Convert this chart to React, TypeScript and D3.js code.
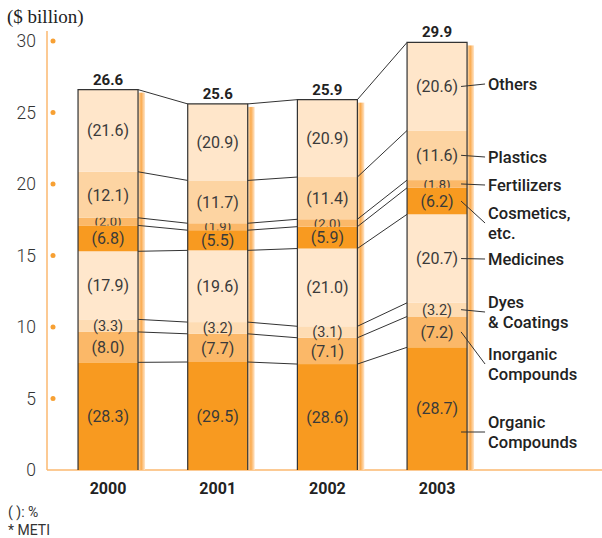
import React from 'react';
import * as d3 from 'd3';

const years = ['2000', '2001', '2002', '2003'];
const totals = [26.6, 25.6, 25.9, 29.9];
const categories = ['Organic Compounds', 'Inorganic Compounds', 'Dyes & Coatings', 'Medicines', 'Cosmetics, etc.', 'Fertilizers', 'Plastics', 'Others'];
// shares (%) per category, by year
const organic = [28.3, 29.5, 28.6, 28.7];
const inorganic = [8.0, 7.7, 7.1, 7.2];
const dyes = [3.3, 3.2, 3.1, 3.2];
const medicines = [17.9, 19.6, 21.0, 20.7];
const cosmetics = [6.8, 5.5, 5.9, 6.2];
const fertilizers = [2.0, 1.9, 2.0, 1.8];
const plastics = [12.1, 11.7, 11.4, 11.6];
const others = [21.6, 20.9, 20.9, 20.6];
const yTicks = [0, 5, 10, 15, 20, 25, 30];

const shares = [organic, inorganic, dyes, medicines, cosmetics, fertilizers, plastics, others];
const colors = ['#F89A20', '#FBB868', '#FEDCB3', '#FFE7CC', '#F89A20', '#FBB868', '#FDD4A2', '#FFE6CA'];

// legend labels: text lines, block centre y, whether line starts at segment middle
const legend = [
  { lines: ['Organic', 'Compounds'], y: 432, fromMid: false },
  { lines: ['Inorganic', 'Compounds'], y: 364, fromMid: true },
  { lines: ['Dyes', '& Coatings'], y: 312, fromMid: true },
  { lines: ['Medicines'], y: 259, fromMid: true },
  { lines: ['Cosmetics,', 'etc.'], y: 223, fromMid: true },
  { lines: ['Fertilizers'], y: 185, fromMid: true },
  { lines: ['Plastics'], y: 157, fromMid: true },
  { lines: ['Others'], y: 84, fromMid: true },
];

const W = 602;
const H = 538;
const sans = 'Roboto, "Noto Sans", sans-serif';

export default function App() {
  const rows = years.map((yr, i) => {
    const r: any = { year: yr };
    categories.forEach((c, k) => { r[c] = totals[i] * shares[k][i] / 100; });
    return r;
  });
  const series = d3.stack().keys(categories)(rows);

  const x = d3.scaleBand().domain(years).range([53.2, 491.9]).paddingInner(0.453).paddingOuter(0.2265);
  const y = d3.scaleLinear().domain([0, 30]).range([470, 41]);
  const bw = x.bandwidth();
  const fmt = d3.format('.1f');

  return (
    <svg width={W} height={H} style={{ position: 'absolute', left: 0, top: 0 }}>
      <defs>
        <linearGradient id="shadow" x1="0" x2="1" y1="0" y2="0">
          <stop offset="0" stopColor="#FFE2BE" />
          <stop offset="0.45" stopColor="#FAAA4E" />
          <stop offset="1" stopColor="#FFE6CA" />
        </linearGradient>
        {series.map((s, k) => s.map((d, i) => (
          <clipPath key={`${k}-${i}`} id={`clip-${k}-${i}`}>
            <rect x={x(years[i])} y={y(d[1])} width={bw} height={y(d[0]) - y(d[1])} />
          </clipPath>
        )))}
      </defs>

      <text x={7} y={23} fontFamily='"Liberation Serif", serif' fontSize={19} fill="#222">($ billion)</text>

      {/* y axis */}
      <line x1={47} x2={47} y1={31} y2={y(0)} stroke="#FBB971" strokeWidth={1.5} />
      <line x1={47} x2={W} y1={y(0)} y2={y(0)} stroke="#FBB971" strokeWidth={1.5} />
      {yTicks.map(t => (
        <g key={t}>
          <circle cx={53} cy={y(t)} r={2.5} fill={t === 0 ? 'none' : '#F7A033'} />
          <text x={36} y={y(t)} dy="0.36em" textAnchor="end" fontFamily={sans} fontSize={17.5} fontWeight={300} fill="#333">{t}</text>
        </g>
      ))}

      {/* shadows */}
      {years.map((yr, i) => (
        <rect key={yr} x={x(yr)! + bw} y={y(totals[i]) + 3} width={7} height={y(0) - y(totals[i]) - 3} fill="url(#shadow)" />
      ))}

      {/* segments */}
      {series.map((s, k) => s.map((d, i) => (
        <rect key={`${k}-${i}`} x={x(years[i])} y={y(d[1])} width={bw} height={y(d[0]) - y(d[1])} fill={colors[k]} />
      )))}

      {/* outlines */}
      {years.map((yr, i) => {
        const x0 = x(yr)!;
        const yt = y(totals[i]);
        return <path key={yr} d={`M${x0},${y(0)}V${yt}H${x0 + bw}V${y(0)}`} fill="none" stroke="#333" strokeWidth={1.2} />;
      })}

      {/* connecting lines */}
      {years.slice(0, -1).map((yr, i) => series.map((s, k) => (
        <line key={`${i}-${k}`} x1={x(yr)! + bw} x2={x(years[i + 1])} y1={y(s[i][1])} y2={y(s[i + 1][1])} stroke="#333" strokeWidth={1} />
      )))}

      {/* percentage labels */}
      {series.map((s, k) => s.map((d, i) => {
        const p = shares[k][i];
        const clipped = p < 2.5;
        return (
          <text key={`${k}-${i}`} x={x(years[i])! + bw / 2} y={(y(d[0]) + y(d[1])) / 2} dy="0.36em" textAnchor="middle"
            fontFamily={sans} fontSize={clipped ? 13 : p < 4 ? 14.5 : 16} fill="#3a3a3a" clipPath={clipped ? `url(#clip-${k}-${i})` : undefined}>
            ({fmt(p)})
          </text>
        );
      }))}

      {/* totals */}
      {years.map((yr, i) => (
        <text key={yr} x={x(yr)! + bw / 2} y={y(totals[i]) - 5} textAnchor="middle" fontFamily={sans} fontWeight={700} fontSize={15} fill="#222">
          {fmt(totals[i])}
        </text>
      ))}

      {/* year labels */}
      {years.map(yr => (
        <text key={yr} x={x(yr)! + bw / 2} y={494} textAnchor="middle" fontFamily={sans} fontWeight={700} fontSize={16} fill="#222">{yr}</text>
      ))}

      {/* legend */}
      {legend.map((l, k) => {
        const last = series[k][years.length - 1];
        const xr = x(years[years.length - 1])! + bw;
        const y1 = l.fromMid ? (y(last[0]) + y(last[1])) / 2 : l.y;
        const top = l.y - (l.lines.length - 1) * 10;
        return (
          <g key={k}>
            <line x1={xr - 6} x2={xr + 18} y1={y1} y2={l.y} stroke="#333" strokeWidth={1} />
            {l.lines.map((t, j) => (
              <text key={j} x={488} y={top + j * 20} dy="0.36em" fontFamily={sans} fontWeight={500} fontSize={16.5} fill="#222">{t}</text>
            ))}
          </g>
        );
      })}

      <text x={8} y={517} fontFamily={sans} fontSize={14} fill="#333">( ): %</text>
      <text x={8} y={535} fontFamily={sans} fontSize={14} fill="#333">* METI</text>
    </svg>
  );
}
